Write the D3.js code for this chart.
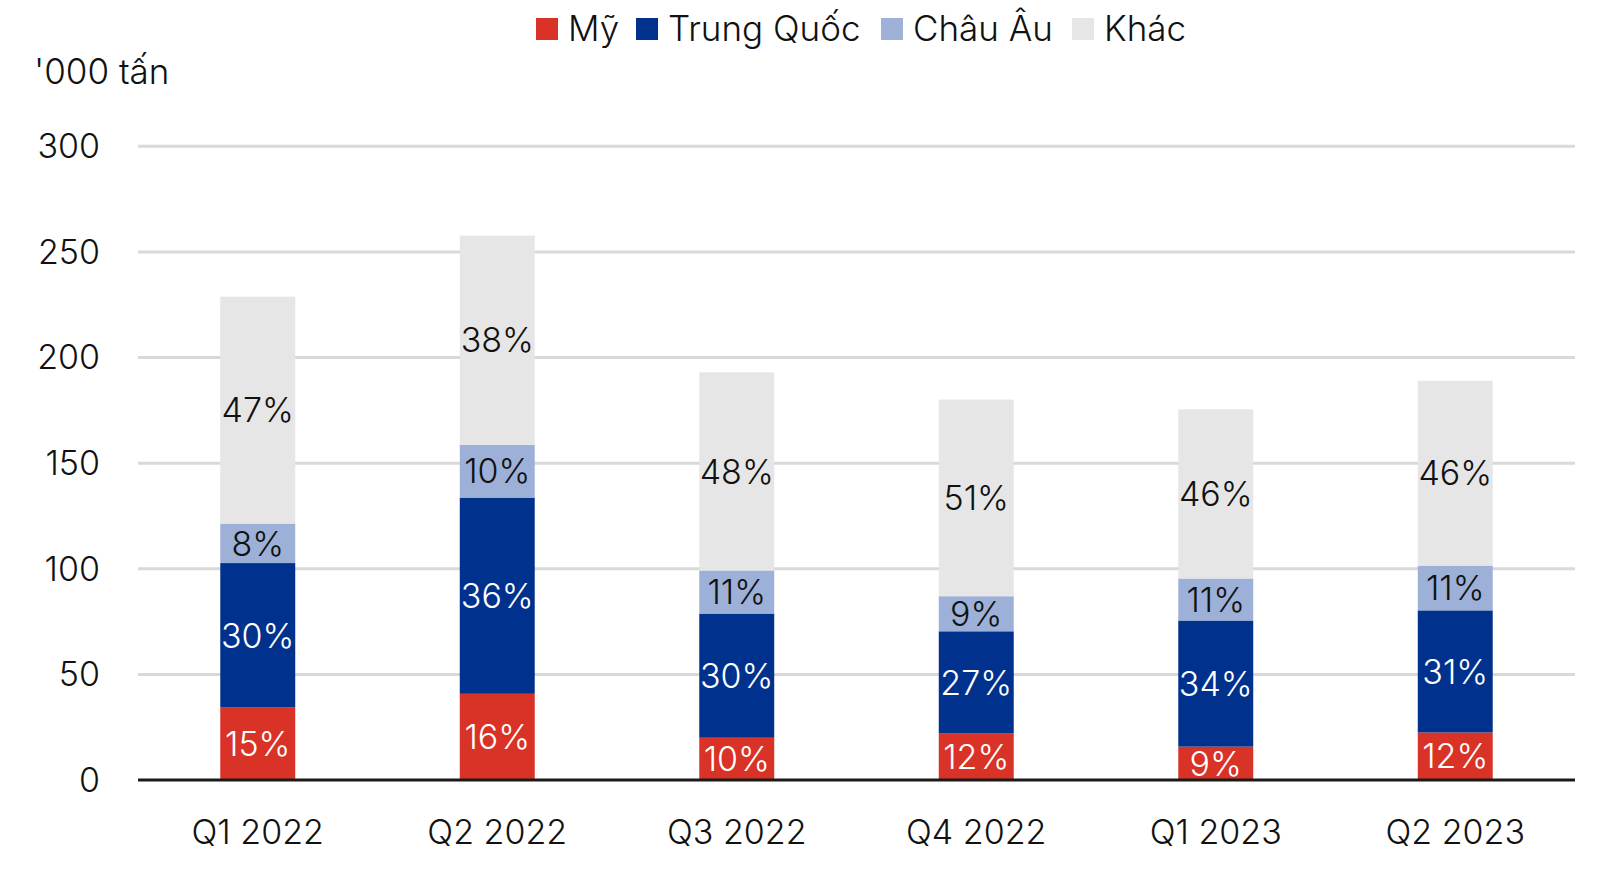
<!DOCTYPE html>
<html><head><meta charset="utf-8">
<script src="https://cdn.jsdelivr.net/npm/d3@7"></script>
<style>
html,body{margin:0;padding:0;background:#fff;}
svg text{font-family:"Inter","Noto Sans",sans-serif;font-weight:300;fill:#111;}
</style></head>
<body>
<svg id="chart" width="1616" height="870"></svg>
<script>
const categories = ["Q1 2022","Q2 2022","Q3 2022","Q4 2022","Q1 2023","Q2 2023"];
const seriesNames = ["Mỹ","Trung Quốc","Châu Âu","Khác"];
const usValues     = [34.3, 40.8, 20.0, 22.0, 15.8, 22.5];
const chinaValues  = [68.4, 92.9, 58.8, 48.4, 59.7, 57.8];
const europeValues = [18.7, 25.0, 20.4, 16.6, 19.9, 21.2];
const otherValues  = [107.4, 99.0, 93.8, 93.1, 80.1, 87.5];
const usLabels     = ["15%","16%","10%","12%","9%","12%"];
const chinaLabels  = ["30%","36%","30%","27%","34%","31%"];
const europeLabels = ["8%","10%","11%","9%","11%","11%"];
const otherLabels  = ["47%","38%","48%","51%","46%","46%"];
const yTicks = [0,50,100,150,200,250,300];
const yUnit = "'000 tấn";

const colors = ["#D93226","#00318C","#9DB0D8","#E6E6E6"];
const labelColors = ["#fff","#fff","#111","#111"];

const svg = d3.select("#chart");
const margin = {left:138, right:41, top:146, bottom:90};
const W = 1616, H = 870;
const x = d3.scaleBand().domain(categories).range([margin.left, W - margin.right]).paddingInner(0.687).paddingOuter(0.3435);
const y = d3.scaleLinear().domain([0,300]).range([780, 146.3]);

// gridlines
svg.append("g").selectAll("line").data(yTicks.filter(d=>d>0)).join("line")
  .attr("x1", margin.left).attr("x2", W - margin.right)
  .attr("y1", d=>y(d)).attr("y2", d=>y(d))
  .attr("stroke","#D9D9D9").attr("stroke-width",3);

// y tick labels
svg.append("g").selectAll("text").data(yTicks).join("text")
  .attr("x", 100).attr("y", d=>y(d)).attr("dy","0.35em")
  .attr("text-anchor","end").attr("font-size",34).text(d=>d);

svg.append("text").attr("x",34).attr("y",72).attr("dy","0.35em")
  .attr("font-size",35).text(yUnit);

// stacked data
const valueSets = [usValues, chinaValues, europeValues, otherValues];
const labelSets = [usLabels, chinaLabels, europeLabels, otherLabels];
const rows = categories.map((c,i)=>{
  const o = {cat:c};
  seriesNames.forEach((s,j)=>o[s]=valueSets[j][i]);
  return o;
});
const stack = d3.stack().keys(seriesNames)(rows);

const layers = svg.append("g").selectAll("g").data(stack).join("g")
  .attr("fill",(d,i)=>colors[i]);
layers.selectAll("rect").data(d=>d).join("rect")
  .attr("x", d=>x(d.data.cat)).attr("width", x.bandwidth())
  .attr("y", d=>y(d[1])).attr("height", d=>y(d[0]) - y(d[1]));

// labels
stack.forEach((layer, j)=>{
  svg.append("g").selectAll("text").data(layer).join("text")
    .attr("x", d=>x(d.data.cat) + x.bandwidth()/2)
    .attr("y", d=>(y(d[0]) + y(d[1]))/2).attr("dy","0.36em")
    .attr("text-anchor","middle").attr("font-size",34)
    .style("fill", labelColors[j])
    .text((d,i)=>labelSets[j][i]);
});

// x axis line
svg.append("line").attr("x1", margin.left).attr("x2", W - margin.right)
  .attr("y1", y(0)).attr("y2", y(0)).attr("stroke","#1a1a1a").attr("stroke-width",3);

// x labels
svg.append("g").selectAll("text").data(categories).join("text")
  .attr("x", d=>x(d) + x.bandwidth()/2).attr("y", 832).attr("dy","0.35em")
  .attr("text-anchor","middle").attr("font-size",34).text(d=>d);

// legend
const legendX = [536, 636, 881, 1072];
const lg = svg.append("g").selectAll("g").data(seriesNames).join("g")
  .attr("transform",(d,i)=>`translate(${legendX[i]},29)`);
lg.append("rect").attr("x",0).attr("y",-11).attr("width",22).attr("height",22)
  .attr("fill",(d,i)=>colors[i]);
lg.append("text").attr("x",32).attr("y",0).attr("dy","0.35em")
  .attr("font-size",35).text(d=>d);
</script>
</body></html>
